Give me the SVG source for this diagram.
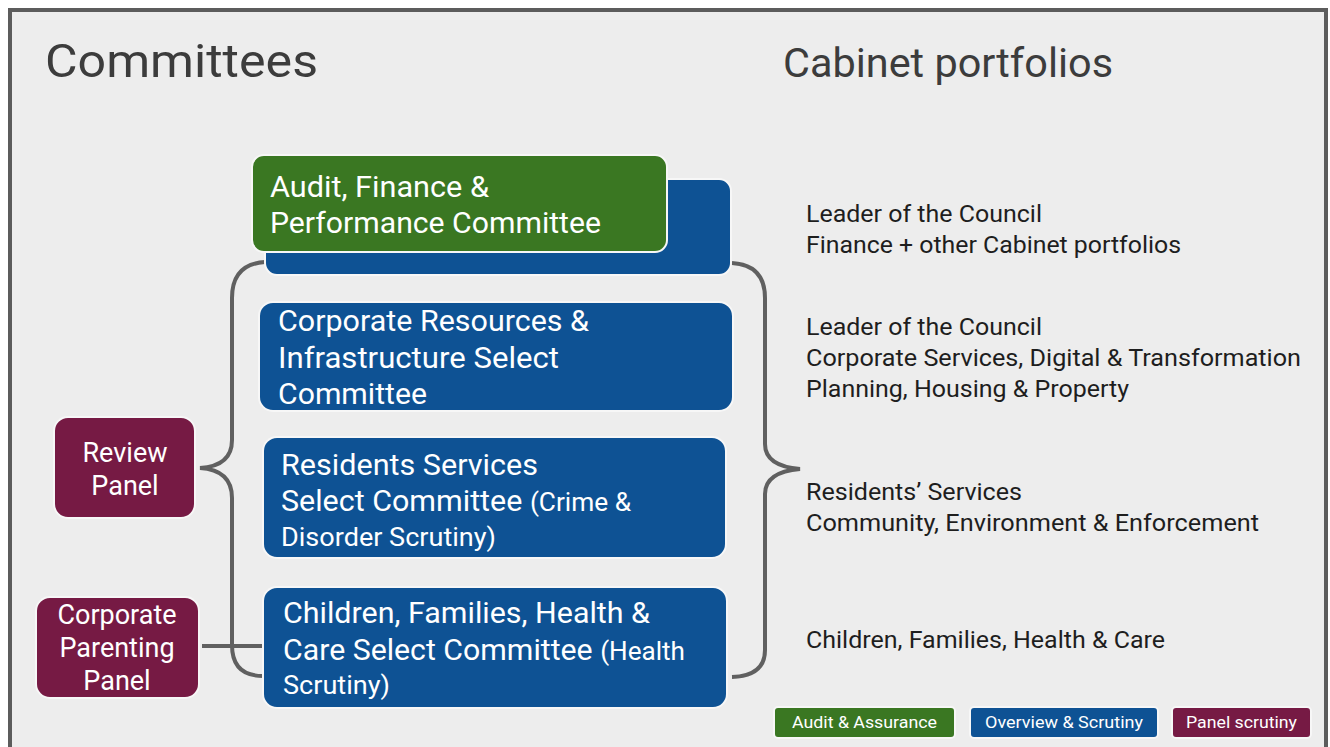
<svg xmlns="http://www.w3.org/2000/svg" width="1330" height="747" viewBox="0 0 1330 747">
<style>
text{font-family:Roboto,"Liberation Sans",sans-serif}
.h{fill:#3c3c3c;font-size:46px}
.w{fill:#ffffff;font-size:29px}
.ws{fill:#ffffff;font-size:25px}
.p{fill:#ffffff;font-size:27px}
.d{fill:#1e1e1e;font-size:24px}
.lg{fill:#ffffff;font-size:16px}
.g{fill:#3a7722;stroke:#f7f7f7;stroke-width:2}
.b{fill:#0e5294;stroke:#f7f7f7;stroke-width:2}
.m{fill:#761a44;stroke:#f7f7f7;stroke-width:2}
.c{fill:none;stroke:#606060;stroke-width:4;stroke-linecap:butt}
</style>
<rect x="0" y="0" width="1330" height="747" fill="#ffffff"/>
<rect x="10" y="10" width="1316" height="760" fill="#ededed" stroke="#5c5c5c" stroke-width="4"/>
<text class="h" x="45" y="77" textLength="273" lengthAdjust="spacingAndGlyphs">Committees</text>
<text class="h" x="783" y="77" style="font-size:40px" textLength="330" lengthAdjust="spacingAndGlyphs">Cabinet portfolios</text>

<g id="connectors">
<path class="c" d="M265,262 Q232,264 232,298 L232,440 Q232,466 200,468 Q232,470 232,498 L232,645 Q232,676 263,676"/>
<path class="c" d="M202,646 L263,646"/>
<path class="c" d="M732,263 Q765,265 765,298 L765,444 Q765,466 800,469 Q765,472 765,494 L765,650 Q765,676 732,677"/>
</g>

<g id="audit-back"><rect class="b" x="265" y="179" width="466" height="96" rx="12"/></g>
<g id="audit">
<rect class="g" x="252" y="155" width="415" height="97" rx="12"/>
<text class="w" x="270" y="197" textLength="219" lengthAdjust="spacingAndGlyphs">Audit, Finance &amp;</text>
<text class="w" x="270" y="233" textLength="331" lengthAdjust="spacingAndGlyphs">Performance Committee</text>
</g>
<g id="corporate-resources">
<rect class="b" x="259" y="302" width="474" height="109" rx="14"/>
<text class="w" x="278" y="331" textLength="311" lengthAdjust="spacingAndGlyphs">Corporate Resources &amp;</text>
<text class="w" x="278" y="368" textLength="281" lengthAdjust="spacingAndGlyphs">Infrastructure Select</text>
<text class="w" x="278" y="404" textLength="149" lengthAdjust="spacingAndGlyphs">Committee</text>
</g>
<g id="residents">
<rect class="b" x="263" y="437" width="463" height="121" rx="14"/>
<text class="w" x="281" y="475" textLength="257" lengthAdjust="spacingAndGlyphs">Residents Services</text>
<text class="w" x="281" y="511" textLength="350" lengthAdjust="spacingAndGlyphs">Select Committee <tspan class="ws">(Crime &amp;</tspan></text>
<text class="ws" x="281" y="546" textLength="215" lengthAdjust="spacingAndGlyphs">Disorder Scrutiny)</text>
</g>
<g id="children">
<rect class="b" x="263" y="587" width="464" height="121" rx="14"/>
<text class="w" x="283" y="623" textLength="367" lengthAdjust="spacingAndGlyphs">Children, Families, Health &amp;</text>
<text class="w" x="283" y="660" textLength="402" lengthAdjust="spacingAndGlyphs">Care Select Committee <tspan class="ws">(Health</tspan></text>
<text class="ws" x="283" y="694" textLength="107" lengthAdjust="spacingAndGlyphs">Scrutiny)</text>
</g>
<g id="review-panel">
<rect class="m" x="54" y="417" width="141" height="101" rx="14"/>
<text class="p" x="125" y="462" text-anchor="middle">Review</text>
<text class="p" x="125" y="495" text-anchor="middle">Panel</text>
</g>
<g id="corporate-parenting">
<rect class="m" x="36" y="597" width="163" height="101" rx="14"/>
<text class="p" x="117" y="624" text-anchor="middle">Corporate</text>
<text class="p" x="117" y="657" text-anchor="middle">Parenting</text>
<text class="p" x="117" y="690" text-anchor="middle">Panel</text>
</g>

<g id="portfolios">
<text class="d" x="806" y="222" textLength="236" lengthAdjust="spacingAndGlyphs">Leader of the Council</text>
<text class="d" x="806" y="253" textLength="375" lengthAdjust="spacingAndGlyphs">Finance + other Cabinet portfolios</text>
<text class="d" x="806" y="335" textLength="236" lengthAdjust="spacingAndGlyphs">Leader of the Council</text>
<text class="d" x="806" y="366" textLength="495" lengthAdjust="spacingAndGlyphs">Corporate Services, Digital &amp; Transformation</text>
<text class="d" x="806" y="397" textLength="323" lengthAdjust="spacingAndGlyphs">Planning, Housing &amp; Property</text>
<text class="d" x="806" y="500" textLength="216" lengthAdjust="spacingAndGlyphs">Residents’ Services</text>
<text class="d" x="806" y="531" textLength="453" lengthAdjust="spacingAndGlyphs">Community, Environment &amp; Enforcement</text>
<text class="d" x="806" y="648" textLength="359" lengthAdjust="spacingAndGlyphs">Children, Families, Health &amp; Care</text>
</g>

<g id="legend">
<rect class="g" x="774" y="707" width="181" height="31" rx="4"/>
<text class="lg" x="864.5" y="728" text-anchor="middle" textLength="145" lengthAdjust="spacingAndGlyphs">Audit &amp; Assurance</text>
<rect class="b" x="970" y="707" width="188" height="31" rx="4"/>
<text class="lg" x="1064" y="728" text-anchor="middle" textLength="158" lengthAdjust="spacingAndGlyphs">Overview &amp; Scrutiny</text>
<rect class="m" x="1172" y="707" width="139" height="31" rx="4"/>
<text class="lg" x="1241.5" y="728" text-anchor="middle" textLength="111" lengthAdjust="spacingAndGlyphs">Panel scrutiny</text>
</g>
</svg>
